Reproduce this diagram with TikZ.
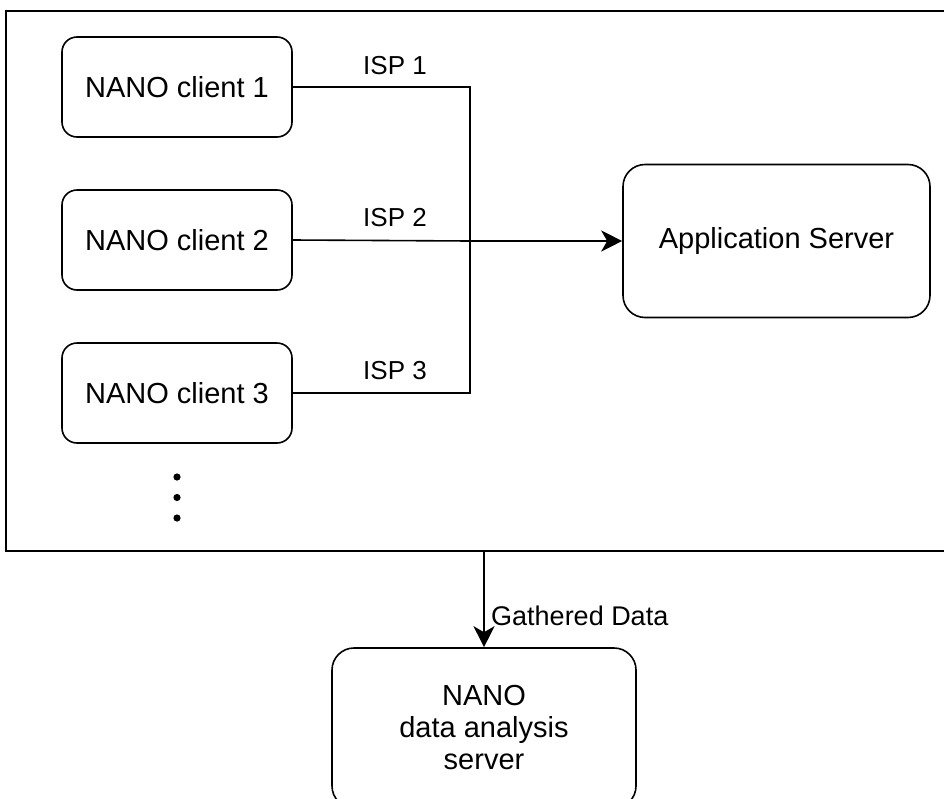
\documentclass[tikz,border=0pt]{standalone}
\usepackage{fontspec}
\setmainfont{Liberation Sans}
\usetikzlibrary{arrows.meta}
\begin{document}
\begin{tikzpicture}[x=1pt,y=-1pt,
  box/.style={draw, line width=1.6pt, rounded corners=15pt, inner sep=0pt, align=center, font=\fontsize{29}{32}\selectfont},
  lbl/.style={inner sep=0pt, font=\fontsize{26}{31}\selectfont},
  conn/.style={line width=1.6pt},
  arr/.style={conn, -{Stealth[length=21pt,width=21pt,inset=6pt]}}]
\useasboundingbox (0,0) rectangle (944,798);
\clip (0,0) rectangle (944,798);
\fill[white] (0,0) rectangle (944,798);
\node[draw, line width=1.6pt, minimum width=954pt, minimum height=540pt, inner sep=0pt] (frame) at (483,281) {};
\node[box, minimum width=230pt, minimum height=100pt] (c1) at (177,87) {NANO client 1};
\node[box, minimum width=230pt, minimum height=100pt] (c2) at (177,240) {NANO client 2};
\node[box, minimum width=230pt, minimum height=100pt] (c3) at (177,393) {NANO client 3};
\node[box, rounded corners=22pt, minimum width=307pt, minimum height=153pt] (app) at (776.5,241) {Application Server};
\node[box, rounded corners=22pt, minimum width=304pt, minimum height=160pt] (ana) at (484,728) {NANO\\data analysis\\server};
\coordinate (j) at (470,241);
\draw[conn] (c1.east) -| (j);
\draw[conn] (c3.east) -| (j);
\draw[conn] (c2.east) -- (j);
\draw[arr, line width=2.4pt] (j) -- (app.west);
\draw[arr] (frame.south -| ana.north) -- (ana.north);
\node[lbl] (isp1) at (395,66) {ISP 1};
\node[lbl] (isp2) at (395,218) {ISP 2};
\node[lbl] (isp3) at (395,371) {ISP 3};
\node[lbl, anchor=west, font=\fontsize{27}{31}\selectfont] (gd) at (491,616) {Gathered Data};
\fill (177,477) circle (3.6pt);
\fill (177,497.5) circle (3.6pt);
\fill (177,518) circle (3.6pt);
\end{tikzpicture}
\end{document}
